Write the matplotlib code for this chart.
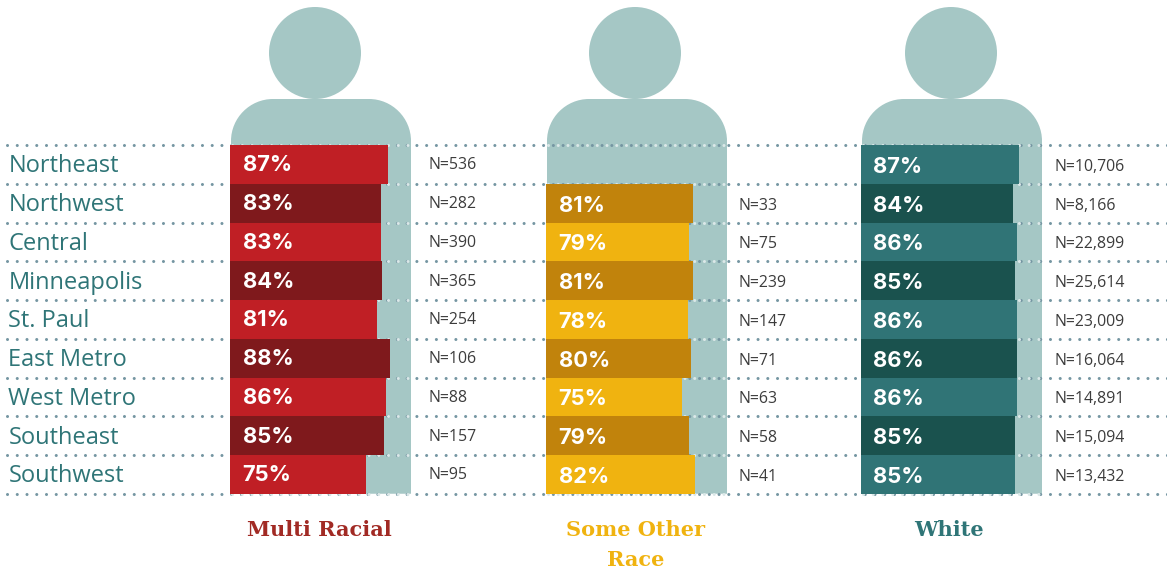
import matplotlib
matplotlib.use('Agg')
import matplotlib.pyplot as plt
from matplotlib.patches import Circle, PathPatch
from matplotlib.path import Path

regions = ['Northeast', 'Northwest', 'Central', 'Minneapolis', 'St. Paul',
           'East Metro', 'West Metro', 'Southeast', 'Southwest']

multi_pct = [87, 83, 83, 84, 81, 88, 86, 85, 75]
multi_n = ['536', '282', '390', '365', '254', '106', '88', '157', '95']
other_pct = [None, 81, 79, 81, 78, 80, 75, 79, 82]
other_n = [None, '33', '75', '239', '147', '71', '63', '58', '41']
white_pct = [87, 84, 86, 85, 86, 86, 86, 85, 85]
white_n = ['10,706', '8,166', '22,899', '25,614', '23,009', '16,064', '14,891', '15,094', '13,432']

TEAL = '#2f7577'
SILH = '#a5c7c5'
DOT = '#7596a2'
TOP = 145.0
STEP = 38.75
SCALE = 1.815
DOT_LW = 2.2
DOTS = (0, (0.01, 3.18))

panels = [
    dict(pct=multi_pct, n=multi_n, x0=230, body=231, head=315, nx=428, dy=1, light='#c01f25', dark='#7f191c'),
    dict(pct=other_pct, n=other_n, x0=546, body=547, head=635, nx=739, dy=2.5, light='#f0b310', dark='#c1830c'),
    dict(pct=white_pct, n=white_n, x0=861, body=862, head=951, nx=1055, dy=2.5, light='#307476', dark='#1a524e'),
]

fig = plt.figure(figsize=(11.67, 5.69), dpi=100)
ax = fig.add_axes([0, 0, 1, 1])
ax.set_xlim(0, 1167)
ax.set_ylim(569, 0)
ax.axis('off')


def body_path(x, w, top, bottom, r):
    c = r * 0.45
    verts = [(x, bottom), (x, top + r), (x, top + c), (x + c, top), (x + r, top),
             (x + w - r, top), (x + w - c, top), (x + w, top + c), (x + w, top + r),
             (x + w, bottom), (x, bottom)]
    codes = [Path.MOVETO, Path.LINETO, Path.CURVE4, Path.CURVE4, Path.CURVE4,
             Path.LINETO, Path.CURVE4, Path.CURVE4, Path.CURVE4,
             Path.LINETO, Path.CLOSEPOLY]
    return Path(verts, codes)


bottom = TOP + STEP * len(regions)

for p in panels:
    ax.add_patch(Circle((p['head'], 53), 46, color=SILH, lw=0, zorder=1))
    ax.add_patch(PathPatch(body_path(p['body'], 180, 99, bottom, 42), fc=SILH, lw=0, zorder=1))

# dotted row rules, lighter where they cross a figure
for i in range(len(regions) + 1):
    y = TOP + STEP * i
    ax.plot([7, 1167], [y, y], color=DOT, lw=DOT_LW, ls=DOTS, dash_capstyle='round', zorder=2)
    for p in panels:
        ax.plot([p['body'] + 1, p['body'] + 179], [y, y], color='#dbe8e8', lw=DOT_LW,
                ls=DOTS, dash_capstyle='round', zorder=3)

for i, name in enumerate(regions):
    ax.text(8.5, TOP + STEP * (i + 0.5) + 2, name, color=TEAL, fontsize=17,
            family='Open Sans', va='center', ha='left', zorder=5)

for p in panels:
    for i, v in enumerate(p['pct']):
        if v is None:
            continue
        col = p['dark'] if i % 2 else p['light']
        ymid = TOP + STEP * (i + 0.5)
        ax.barh(ymid, v * SCALE, height=STEP, left=p['x0'], color=col, lw=0, zorder=4)
        ax.text(p['x0'] + 12.5, ymid + p['dy'], '%d%%' % v, color='white', fontsize=15.8,
                family='Inter', weight='bold', va='center', ha='left', zorder=5)
        ax.text(p['nx'], ymid + p['dy'], 'N=' + p['n'][i], color='#3c3c3c', fontsize=11.4,
                family='Open Sans', va='center', ha='left', zorder=5)

ax.text(319, 530, 'Multi Racial', color='#a12a24', fontsize=15, family='DejaVu Serif',
        weight='bold', ha='center', va='center')
ax.text(636, 530, 'Some Other', color='#f0b310', fontsize=15, family='DejaVu Serif',
        weight='bold', ha='center', va='center')
ax.text(636, 560, 'Race', color='#f0b310', fontsize=15, family='DejaVu Serif',
        weight='bold', ha='center', va='center')
ax.text(949, 529.5, 'White', color=TEAL, fontsize=15, family='DejaVu Serif',
        weight='bold', ha='center', va='center')

fig.savefig('out.png', dpi=100, facecolor='white')
